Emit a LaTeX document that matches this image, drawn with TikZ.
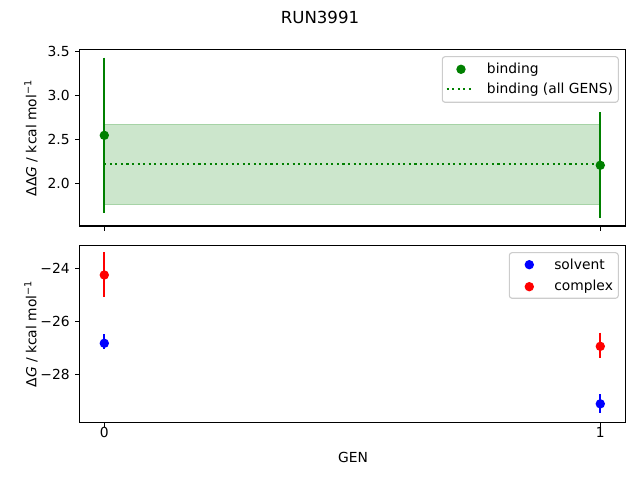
\documentclass[tikz,border=0pt]{standalone}
\usepackage{fontspec}
\setmainfont{DejaVu Sans}
\definecolor{mplgreen}{HTML}{008000}
\definecolor{bandgreen}{HTML}{CCE6CC}
\definecolor{legendedge}{HTML}{CCCCCC}
\tikzset{
	pt/.style={circle,fill=#1,minimum size=0.094in,inner sep=0pt},
	errbar/.style={line width=1.5pt},
	frame/.style={line width=0.8pt},
	legbox/.style={draw=legendedge,fill=white,rounded corners=2pt,line width=0.8pt},
}
\begin{document}
\begin{tikzpicture}[x=0.01in,y=0.01in]
		\useasboundingbox (0,0) rectangle (640,480);
		\node (title) at (320,463) {\fontsize{12}{14}\selectfont RUN3991};
		% upper axes: binding free energy
		\begin{scope}[shift={(104.3,120.7)},xscale=496,yscale=88]
		\fill[bandgreen] (0,1.766) rectangle (1,2.666);
		\draw[mplgreen!35,line width=0.4pt] (0,1.766) -- (1,1.766) (0,2.666) -- (1,2.666);
		\coordinate (avgL) at (0,2.219);
		\coordinate (avgR) at (1,2.219);
		\draw[mplgreen,line width=1.5pt,dash pattern=on 1.5pt off 2.5pt] (avgL) -- (avgR);
		\coordinate (b0t) at (0,3.43); \coordinate (b0b) at (0,1.666);
		\coordinate (b1t) at (1,2.81); \coordinate (b1b) at (1,1.61);
		\draw[mplgreen,errbar] (b0t) -- (b0b) (b1t) -- (b1b);
		\begin{scope}[every node/.style={pt=mplgreen}]
		\node (b0) at (0,2.545) {};
		\node (b1) at (1,2.205) {};
		\end{scope}
		\draw[frame] (-0.05,1.515) rectangle (1.05,3.523);
		\foreach \v in {2.0,2.5,3.0,3.5}
		{\draw[frame] (-0.05,\v) -- ++(-0.0099,0);
		\node[anchor=east,inner sep=0pt] (ty\v) at (-0.0692,\v) {\v};}
		\foreach \g in {0,1}
		\draw[frame] (\g,1.515) -- ++(0,-0.0557);
		\end{scope}
		\node[rotate=90] (ylabtop) at (31,342) {ΔΔ\textit{G} / kcal mol\textsuperscript{−1}};
		% upper legend
		\draw[legbox] (442.3,377.7) rectangle (618.3,423.3);
		\node[pt=mplgreen] (legb) at (461,410.7) {};
		\node[anchor=west,inner sep=0pt] (legbtxt) at (486.7,410.7) {binding};
		\coordinate (legdL) at (446.7,390.7);
		\coordinate (legdR) at (474.3,390.7);
		\draw[mplgreen,line width=1.5pt,dash pattern=on 1.5pt off 2.5pt] (legdL) -- (legdR);
		\node[anchor=west,inner sep=0pt] (legdtxt) at (486.7,390.7) {binding (all GENS)};
		% lower axes: solvent and complex legs
		\begin{scope}[shift={(104.3,847.3)},xscale=496,yscale=26.5]
		\coordinate (c0t) at (0,-23.396); \coordinate (c0b) at (0,-25.094);
		\coordinate (c1t) at (1,-26.43); \coordinate (c1b) at (1,-27.38);
		\coordinate (s0t) at (0,-26.50); \coordinate (s0b) at (0,-27.04);
		\coordinate (s1t) at (1,-28.77); \coordinate (s1b) at (1,-29.46);
		\draw[blue,errbar] (s0t) -- (s0b) (s1t) -- (s1b);
		\draw[red,errbar] (c0t) -- (c0b) (c1t) -- (c1b);
		\begin{scope}[every node/.style={pt=blue}]
		\node (s0) at (0,-26.815) {};
		\node (s1) at (1,-29.1) {};
		\end{scope}
		\begin{scope}[every node/.style={pt=red}]
		\node (c0) at (0,-24.238) {};
		\node (c1) at (1,-26.93) {};
		\end{scope}
		\draw[frame] (-0.05,-29.796) rectangle (1.05,-23.117);
		\foreach \v in {24,26,28}
		{\draw[frame] (-0.05,-\v) -- ++(-0.0099,0);
		\node[anchor=east,inner sep=0pt] (ty\v) at (-0.0692,-\v) {−\v};}
		\foreach \g in {0,1}
		{\draw[frame] (\g,-29.796) -- ++(0,-0.185);
		\node[anchor=north,inner sep=0pt] (tx\g) at (\g,-29.99) {\g};}
		\end{scope}
		\node[rotate=90] (ylabbot) at (31,146) {Δ\textit{G} / kcal mol\textsuperscript{−1}};
		\node (xlab) at (353,23) {GEN};
		% lower legend
		\draw[legbox] (509.3,181.7) rectangle (618.3,227.3);
		\node[pt=blue] (legs) at (529.3,215.3) {};
		\node[anchor=west,inner sep=0pt] (legstxt) at (554,215.3) {solvent};
		\node[pt=red] (legc) at (529.3,193.3) {};
		\node[anchor=west,inner sep=0pt] (legctxt) at (554,193.3) {complex};
		\end{tikzpicture}
\end{document}
